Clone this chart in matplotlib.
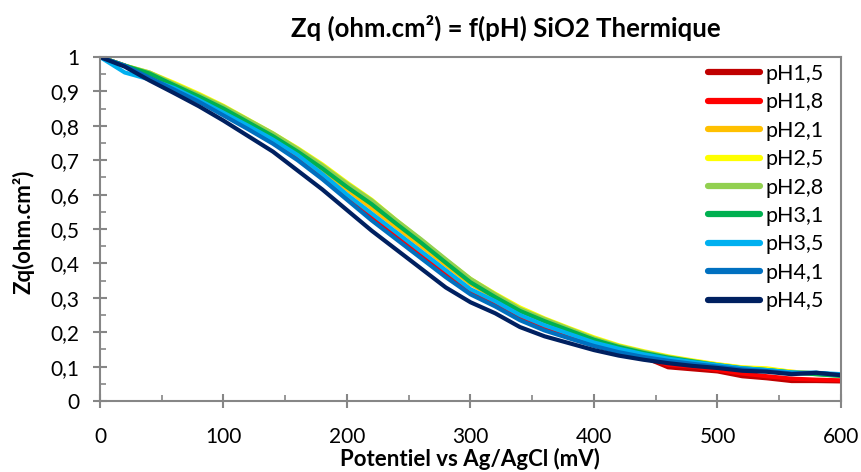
import matplotlib
matplotlib.use("Agg")
import matplotlib.pyplot as plt
from matplotlib.ticker import MultipleLocator, FuncFormatter

potential = list(range(0, 601, 20))

ph15 = [1.0, 0.975, 0.945, 0.91, 0.875, 0.835, 0.795, 0.755, 0.705, 0.652, 0.595, 0.537, 0.48, 0.425, 0.37, 0.32,
        0.285, 0.245, 0.215, 0.19, 0.165, 0.145, 0.128, 0.098, 0.092, 0.086, 0.072, 0.066, 0.058, 0.058, 0.057]
ph18 = [1.0, 0.975, 0.945, 0.91, 0.875, 0.835, 0.795, 0.755, 0.705, 0.652, 0.595, 0.537, 0.48, 0.425, 0.37, 0.32,
        0.285, 0.245, 0.215, 0.19, 0.165, 0.145, 0.13, 0.105, 0.1, 0.09, 0.08, 0.072, 0.065, 0.062, 0.06]
ph21 = [1.0, 0.975, 0.95, 0.915, 0.88, 0.845, 0.805, 0.765, 0.72, 0.67, 0.615, 0.56, 0.505, 0.45, 0.395, 0.34,
        0.3, 0.262, 0.232, 0.205, 0.178, 0.158, 0.14, 0.127, 0.116, 0.106, 0.097, 0.092, 0.085, 0.08, 0.075]
ph25 = [1.0, 0.975, 0.955, 0.925, 0.893, 0.858, 0.818, 0.778, 0.735, 0.688, 0.635, 0.585, 0.525, 0.468, 0.41, 0.355,
        0.312, 0.272, 0.24, 0.212, 0.185, 0.162, 0.145, 0.13, 0.118, 0.107, 0.098, 0.095, 0.085, 0.08, 0.075]
ph28 = [1.0, 0.975, 0.955, 0.922, 0.89, 0.856, 0.817, 0.778, 0.733, 0.685, 0.632, 0.583, 0.525, 0.47, 0.412, 0.355,
        0.31, 0.268, 0.238, 0.21, 0.182, 0.16, 0.143, 0.128, 0.116, 0.105, 0.096, 0.09, 0.083, 0.078, 0.073]
ph31 = [1.0, 0.975, 0.952, 0.918, 0.885, 0.85, 0.81, 0.77, 0.725, 0.676, 0.622, 0.572, 0.515, 0.46, 0.402, 0.345,
        0.302, 0.262, 0.232, 0.205, 0.178, 0.157, 0.14, 0.126, 0.115, 0.104, 0.095, 0.09, 0.083, 0.078, 0.073]
ph35 = [1.0, 0.955, 0.935, 0.91, 0.875, 0.838, 0.8, 0.76, 0.715, 0.66, 0.6, 0.545, 0.49, 0.435, 0.38, 0.325,
        0.29, 0.25, 0.22, 0.195, 0.17, 0.152, 0.136, 0.123, 0.113, 0.104, 0.095, 0.09, 0.083, 0.082, 0.078]
ph41 = [1.0, 0.975, 0.94, 0.905, 0.87, 0.83, 0.79, 0.748, 0.70, 0.645, 0.585, 0.525, 0.47, 0.415, 0.36, 0.31,
        0.275, 0.235, 0.205, 0.182, 0.16, 0.142, 0.128, 0.117, 0.108, 0.1, 0.092, 0.087, 0.08, 0.082, 0.075]
ph45 = [1.0, 0.972, 0.932, 0.895, 0.857, 0.815, 0.77, 0.725, 0.67, 0.615, 0.555, 0.495, 0.44, 0.385, 0.33, 0.287,
        0.255, 0.215, 0.188, 0.168, 0.148, 0.132, 0.12, 0.11, 0.102, 0.096, 0.088, 0.085, 0.078, 0.082, 0.075]

labels = ["pH1,5", "pH1,8", "pH2,1", "pH2,5", "pH2,8", "pH3,1", "pH3,5", "pH4,1", "pH4,5"]
colors = ["#C00000", "#FF0000", "#FFC000", "#FFFF00", "#92D050", "#00B050", "#00B0F0", "#0070C0", "#002060"]
series = [ph15, ph18, ph21, ph25, ph28, ph31, ph35, ph41, ph45]

plt.rcParams['font.family'] = ['Lato', 'DejaVu Sans']

W, H = 862, 472
fig = plt.figure(figsize=(W/100, H/100), dpi=100)
ax = fig.add_axes([100/W, 1-401/H, (841-100)/W, (401-57)/H])

for ys, c, lab in zip(series, colors, labels):
    ax.plot(potential, ys, color=c, lw=3.0, label=lab, solid_joinstyle='round')

ax.set_xlim(0, 600)
ax.set_ylim(0, 1)
ax.xaxis.set_major_locator(MultipleLocator(100))
ax.xaxis.set_minor_locator(MultipleLocator(50))
ax.yaxis.set_major_locator(MultipleLocator(0.1))
ax.yaxis.set_minor_locator(MultipleLocator(0.05))

def yfmt(v, pos):
    s = f"{v:.1f}"
    if s.endswith(".0"):
        s = s[:-2]
    return s.replace(".", ",")

ax.yaxis.set_major_formatter(FuncFormatter(yfmt))

gray = "#868686"
for sp in ax.spines.values():
    sp.set_color(gray)
    sp.set_linewidth(1.5)

ax.tick_params(axis='both', which='major', direction='inout', length=10, width=1.5, color=gray,
               labelsize=15, labelcolor='black')
ax.tick_params(axis='both', which='minor', direction='in', length=4, width=1.2, color=gray)
ax.tick_params(axis='x', which='major', pad=14)
ax.tick_params(axis='y', which='major', pad=10)

fig.text(506/W, 1-28/H, "Zq (ohm.cm²) = f(pH) SiO2 Thermique", fontsize=18.5, fontweight='bold',
         ha='center', va='center')
fig.text(470/W, 1-459/H, "Potentiel vs Ag/AgCl (mV)", fontsize=16, fontweight='bold',
         ha='center', va='center')
fig.text(23/W, 1-232/H, "Zq(ohm.cm²)", fontsize=16, fontweight='bold', rotation=90,
         ha='center', va='center')

leg = ax.legend(loc='upper left', bbox_to_anchor=(708/W, 1-64/H), bbox_transform=fig.transFigure,
                frameon=False, fontsize=15.5, handlelength=2.4, handletextpad=0.25,
                labelspacing=0.39, borderaxespad=0, borderpad=0)
for l in leg.get_lines():
    l.set_linewidth(4.5)
    l.set_solid_capstyle('round')

fig.savefig("out.png", dpi=100)
